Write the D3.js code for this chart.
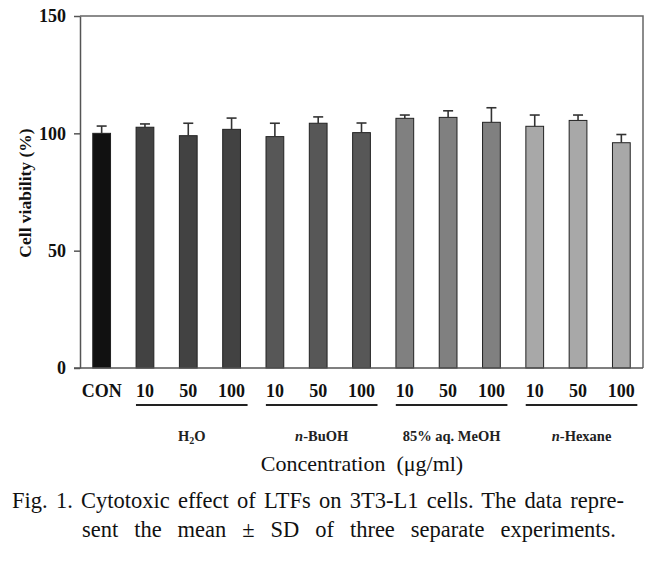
<!DOCTYPE html>
<html>
<head>
<meta charset="utf-8">
<script src="https://cdn.jsdelivr.net/npm/d3@7"></script>
<style>
  body { margin: 0; background: #fff; }
  svg { display: block; font-family: "Liberation Serif", "Times New Roman", serif; }
</style>
</head>
<body>
<svg id="chart" width="668" height="567"></svg>
<script>
// concentration labels under each bar
var concLabels = ["CON", "10", "50", "100", "10", "50", "100", "10", "50", "100", "10", "50", "100"];
// fraction of each bar
var barGroup = ["CON", "H2O", "H2O", "H2O", "BuOH", "BuOH", "BuOH", "MeOH", "MeOH", "MeOH", "Hex", "Hex", "Hex"];
// mean cell viability (%)
var viability = [100, 102.6, 99.0, 101.7, 98.6, 104.3, 100.3, 106.4, 106.8, 104.7, 103.0, 105.5, 96.0];
// standard deviation
var sd = [3.1, 1.4, 5.3, 4.8, 5.7, 2.7, 4.1, 1.4, 2.8, 6.2, 4.8, 2.3, 3.5];
var yTicks = [0, 50, 100, 150];

var groupKeys = ["H2O", "BuOH", "MeOH", "Hex"];
var groupColor = { "CON": "#111111", "H2O": "#424242", "BuOH": "#575757", "MeOH": "#808080", "Hex": "#a8a8a8" };

var svg = d3.select("#chart"),
	margin = { left: 80, right: 25, top: 16, bottom: 199 },
	width = +svg.attr("width"),
	height = +svg.attr("height");

var x = d3.scaleBand()
	.domain(d3.range(viability.length))
	.range([margin.left, width - margin.right])
	.paddingInner(0.59)
	.paddingOuter(0.295);

var y = d3.scaleLinear()
	.domain([0, 150])
	.range([height - margin.bottom, margin.top]);

// frame: top and right
svg.append("path")
	.attr("d", "M" + margin.left + "," + y(150) + "H" + (width - margin.right) + "V" + y(0))
	.attr("fill", "none")
	.attr("stroke", "#666")
	.attr("stroke-width", 1.5);

// bars
svg.append("g").selectAll("rect")
	.data(viability)
	.enter().append("rect")
	.attr("x", function(d, i) { return x(i); })
	.attr("y", function(d) { return y(d); })
	.attr("width", x.bandwidth())
	.attr("height", function(d) { return y(0) - y(d); })
	.attr("fill", function(d, i) { return groupColor[barGroup[i]]; })
	.attr("stroke", "#222")
	.attr("stroke-width", 1);

// error bars (upper only)
var err = svg.append("g").attr("stroke", "#333").attr("stroke-width", 1.6);
viability.forEach(function(v, i) {
	var cx = x(i) + x.bandwidth() / 2;
	err.append("line")
		.attr("x1", cx).attr("x2", cx)
		.attr("y1", y(v)).attr("y2", y(v + sd[i]));
	err.append("line")
		.attr("x1", cx - 5).attr("x2", cx + 5)
		.attr("y1", y(v + sd[i])).attr("y2", y(v + sd[i]));
});

// y axis
var yAxis = svg.append("g")
	.attr("transform", "translate(" + margin.left + ",0)")
	.call(d3.axisLeft(y).tickValues(yTicks).tickSize(6).tickSizeOuter(0).tickPadding(8));
yAxis.select(".domain").attr("stroke", "#555").attr("stroke-width", 1.5);
yAxis.selectAll(".tick line").attr("stroke", "#555").attr("stroke-width", 1.5);
yAxis.selectAll(".tick text")
	.attr("font-size", "18px")
	.attr("font-weight", "bold")
	.attr("font-family", "Liberation Serif")
	.attr("fill", "#111");

// baseline
svg.append("line")
	.attr("x1", margin.left - 6).attr("x2", width - margin.right)
	.attr("y1", y(0)).attr("y2", y(0))
	.attr("stroke", "#555").attr("stroke-width", 1.5);

// concentration labels
svg.append("g").selectAll("text")
	.data(concLabels)
	.enter().append("text")
	.attr("x", function(d, i) { return x(i) + x.bandwidth() / 2; })
	.attr("y", 397)
	.attr("text-anchor", "middle")
	.attr("font-size", "18px")
	.attr("font-weight", "bold")
	.attr("fill", "#111")
	.text(function(d) { return d; });

// group underlines and names
var gg = svg.append("g");
groupKeys.forEach(function(k) {
	var idx = [];
	barGroup.forEach(function(b, i) { if (b == k) idx.push(i); });
	var x0 = x(idx[0]) + x.bandwidth() / 2 - 9,
		x1 = x(idx[idx.length - 1]) + x.bandwidth() / 2 + 16;
	gg.append("line")
		.attr("x1", x0).attr("x2", x1)
		.attr("y1", 405).attr("y2", 405)
		.attr("stroke", "#222").attr("stroke-width", 1.8);
	var t = gg.append("text")
		.attr("x", (x0 + x1) / 2)
		.attr("y", 441)
		.attr("text-anchor", "middle")
		.attr("font-size", "14.5px")
		.attr("font-weight", "bold")
		.attr("fill", "#222");
	if (k == "H2O") {
		t.append("tspan").text("H");
		t.append("tspan").attr("font-size", "10px").attr("dy", 3).text("2");
		t.append("tspan").attr("dy", -3).text("O");
	} else if (k == "BuOH") {
		t.append("tspan").attr("font-style", "italic").text("n");
		t.append("tspan").text("-BuOH");
	} else if (k == "MeOH") {
		t.text("85% aq. MeOH");
	} else {
		t.append("tspan").attr("font-style", "italic").text("n");
		t.append("tspan").text("-Hexane");
	}
});

// axis titles
svg.append("text")
	.attr("transform", "translate(31,193) rotate(-90)")
	.attr("text-anchor", "middle")
	.attr("font-size", "17.5px")
	.attr("font-weight", "bold")
	.attr("fill", "#111")
	.text("Cell viability (%)");

svg.append("text")
	.attr("x", 362)
	.attr("y", 471)
	.attr("text-anchor", "middle")
	.attr("font-size", "22px")
	.attr("fill", "#111")
	.attr("xml:space", "preserve")
	.text("Concentration  (\u03bcg/ml)");

// caption, justified by word spacing
function justify(sel, target) {
	var gaps = sel.text().split(" ").length - 1;
	var w = sel.node().getComputedTextLength();
	sel.attr("word-spacing", Math.max(0, (target - w) / gaps));
}
var cap1 = svg.append("text")
	.attr("x", 12).attr("y", 508)
	.attr("font-size", "22.5px").attr("fill", "#111")
	.text("Fig. 1. Cytotoxic effect of LTFs on 3T3-L1 cells. The data repre-");
justify(cap1, 612);
var cap2 = svg.append("text")
	.attr("x", 82).attr("y", 537)
	.attr("font-size", "22.5px").attr("fill", "#111")
	.text("sent the mean \u00b1 SD of three separate experiments.");
justify(cap2, 534);
</script>
</body>
</html>
